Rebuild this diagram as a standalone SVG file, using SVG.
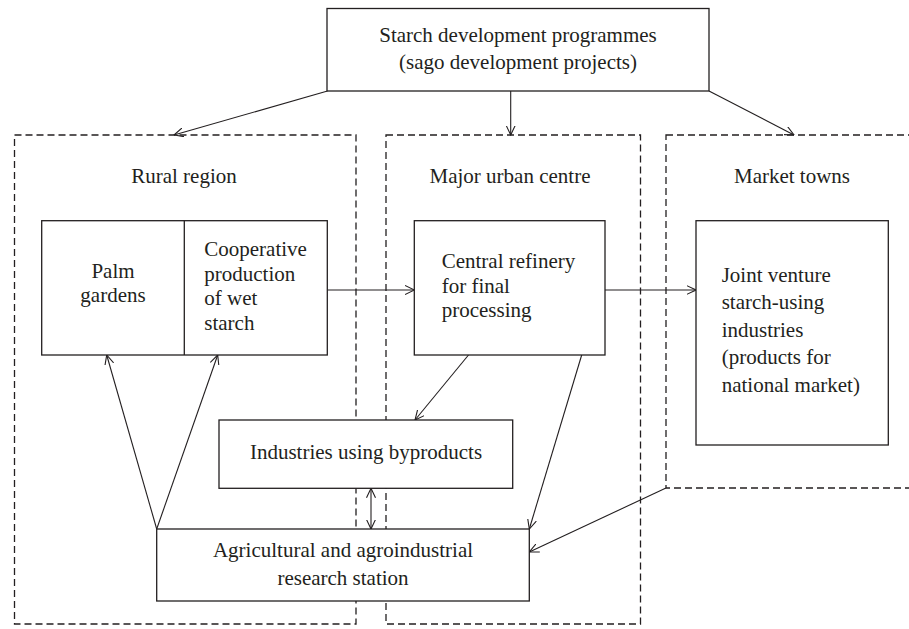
<svg xmlns="http://www.w3.org/2000/svg" width="909" height="629" viewBox="0 0 909 629">
<style>
.box{fill:#fff;stroke:#231f20;stroke-width:1.3}
.region{fill:none;stroke:#231f20;stroke-width:1.3;stroke-dasharray:7,4}
.t{font-family:"Liberation Serif","Times New Roman",serif;font-size:21px;fill:#231f20}
.m{text-anchor:middle}
.c{fill:none;stroke:#231f20;stroke-width:1.1}
</style>
<defs>
<marker id="ah" viewBox="0 0 10 10" refX="9.5" refY="5" markerWidth="10" markerHeight="10" markerUnits="userSpaceOnUse" orient="auto-start-reverse">
<path d="M0,0.5 L9.5,5 L0,9.5" fill="none" stroke="#231f20" stroke-width="1.1"/>
</marker>
</defs>
<rect width="909" height="629" fill="#fff"/>
<g id="regions">
<g id="rural-region"><rect class="region" x="14.5" y="135" width="341.5" height="489"/><text class="t m" x="184" y="183">Rural region</text></g>
<g id="urban-centre"><rect class="region" x="386" y="135" width="254.5" height="489"/><text class="t m" x="510" y="183">Major urban centre</text></g>
<g id="market-towns"><rect class="region" x="666" y="135" width="260" height="353"/><text class="t m" x="792" y="183">Market towns</text></g>
</g>
<g id="connectors">
<line class="c" x1="327.5" y1="91" x2="174" y2="135" marker-end="url(#ah)"/>
<line class="c" x1="510.7" y1="91" x2="510.7" y2="135" marker-end="url(#ah)"/>
<line class="c" x1="709" y1="91" x2="794" y2="135" marker-end="url(#ah)"/>
<line class="c" x1="327.5" y1="290" x2="414.5" y2="290" marker-end="url(#ah)"/>
<line class="c" x1="605" y1="290" x2="696" y2="290" marker-end="url(#ah)"/>
<line class="c" x1="468.5" y1="355" x2="415" y2="420" marker-end="url(#ah)"/>
<line class="c" x1="581.7" y1="355" x2="529.3" y2="529" marker-end="url(#ah)"/>
<line class="c" x1="156.7" y1="529" x2="106.7" y2="355" marker-end="url(#ah)"/>
<line class="c" x1="156.7" y1="529" x2="217.7" y2="355" marker-end="url(#ah)"/>
<line class="c" x1="371" y1="488.3" x2="371" y2="529" marker-start="url(#ah)" marker-end="url(#ah)"/>
<line class="c" x1="666" y1="488" x2="529.3" y2="552" marker-end="url(#ah)"/>
</g>
<g id="starch-programmes">
<rect class="box" x="327" y="8.5" width="382" height="82.5"/>
<text class="t m" x="518" y="41.5">Starch development programmes</text>
<text class="t m" x="518" y="68.5">(sago development projects)</text>
</g>
<g id="palm-cooperative">
<rect class="box" x="41.7" y="220.7" width="285.6" height="134.3"/>
<line class="box" x1="184.3" y1="220.7" x2="184.3" y2="355"/>
<text class="t m" x="113" y="278.3">Palm</text>
<text class="t m" x="113" y="302">gardens</text>
<text class="t" x="204.3" y="256">Cooperative</text>
<text class="t" x="204.3" y="280.7">production</text>
<text class="t" x="204.3" y="305.3">of wet</text>
<text class="t" x="204.3" y="330">starch</text>
</g>
<g id="central-refinery">
<rect class="box" x="414.3" y="220.7" width="190.7" height="134.3"/>
<text class="t" x="441.7" y="268.3">Central refinery</text>
<text class="t" x="441.7" y="292.8">for final</text>
<text class="t" x="441.7" y="317.3">processing</text>
</g>
<g id="joint-venture">
<rect class="box" x="696" y="220.7" width="192.3" height="224.3"/>
<text class="t" x="721.7" y="281.7">Joint venture</text>
<text class="t" x="721.7" y="309.2">starch-using</text>
<text class="t" x="721.7" y="336.7">industries</text>
<text class="t" x="721.7" y="364.2">(products for</text>
<text class="t" x="721.7" y="391.7">national market)</text>
</g>
<g id="byproduct-industries">
<rect class="box" x="219" y="420" width="293.7" height="68.3"/>
<text class="t m" x="366" y="459.3">Industries using byproducts</text>
</g>
<g id="research-station">
<rect class="box" x="156.7" y="529" width="372.6" height="72"/>
<text class="t m" x="343" y="556.7">Agricultural and agroindustrial</text>
<text class="t m" x="343" y="585">research station</text>
</g>
</svg>
